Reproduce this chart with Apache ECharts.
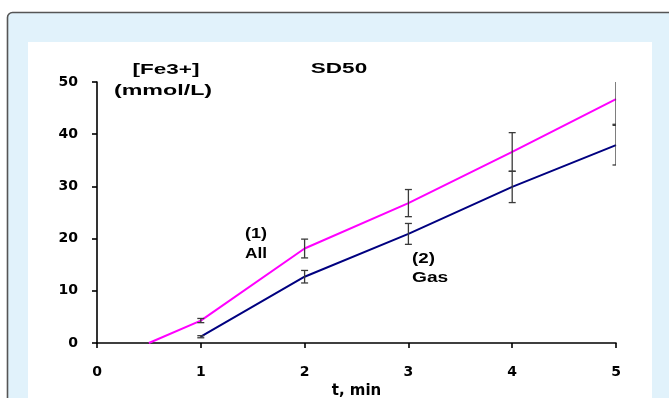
<!DOCTYPE html>
<html>
<head>
<meta charset="utf-8">
<script src="https://cdn.jsdelivr.net/npm/echarts@6/dist/echarts.min.js"></script>
<style>
  html, body { margin: 0; padding: 0; background: #fff; }
  #chart { width: 669px; height: 398px; }
</style>
</head>
<body>
<div id="chart"></div>
<script>
// values
const xTicks = [0, 1, 2, 3, 4, 5]
const yTicks = [0, 10, 20, 30, 40, 50]

const allX = [0.5, 1, 2, 3, 4, 5]
const allY = [0, 4.3, 18.1, 26.8, 36.6, 46.7]
const allErr = [null, 0.4, 1.8, 2.6, 3.7, 4.8]

const gasX = [1, 2, 3, 4, 5]
const gasY = [1.2, 12.7, 20.9, 29.9, 37.9]
const gasErr = [0.2, 1.2, 2.0, 3.0, 3.8]

const FONT = 'Liberation Sans, Arial, sans-serif'
const AXFONT = 'DejaVu Sans, sans-serif'

const pairs = (xs, ys) => xs.map((x, i) => [x, ys[i]])
const errRows = (xs, ys, es) => xs.map((x, i) => [x, ys[i], es[i]]).filter(r => r[2] != null)

function errorBar(params, api) {
  const x = api.value(0), y = api.value(1), e = api.value(2)
  const hi = api.coord([x, y + e])
  const lo = api.coord([x, y - e])
  const w = 3.5
  const style = { stroke: '#3a3a3a', lineWidth: 1.3 }
  return {
    type: 'group',
    children: [
      { type: 'line', shape: { x1: hi[0], y1: hi[1], x2: lo[0], y2: lo[1] }, style },
      { type: 'line', shape: { x1: hi[0] - w, y1: hi[1], x2: hi[0] + w, y2: hi[1] }, style },
      { type: 'line', shape: { x1: lo[0] - w, y1: lo[1], x2: lo[0] + w, y2: lo[1] }, style }
    ]
  }
}

// stretched bold text, like the scanned figure
const note = (text, x, y, sx, align) => ({
  type: 'text', x, y, scaleX: sx, z: 10,
  style: { text, fill: '#000', font: 'bold 15px ' + FONT, align: align || 'center', verticalAlign: 'middle' }
})

const mychart = echarts.init(document.getElementById('chart'))

const option = {
  animation: false,
  backgroundColor: '#ffffff',
  graphic: [
    // frame
    { type: 'rect', z: -10, silent: true,
      shape: { x: 7.5, y: 12.5, width: 700, height: 420, r: 5 },
      style: { fill: '#e1f2fb', stroke: '#555', lineWidth: 1.6 } },
    { type: 'rect', z: -9, silent: true,
      shape: { x: 28, y: 42, width: 624, height: 400 },
      style: { fill: '#ffffff' } },
    note('[Fe3+]', 166, 70, 1.5),
    note('(mmol/L)', 163, 91, 1.55),
    note('SD50', 339, 69, 1.5),
    note('(1)', 256, 234, 1.2),
    note('All', 256, 254, 1.15),
    note('(2)', 412, 259, 1.25, 'left'),
    note('Gas', 412, 278, 1.28, 'left')
  ],
  grid: { left: 97, right: 53, top: 82, bottom: 55, outerBoundsMode: 'none', containLabel: false },
  xAxis: {
    type: 'value', min: 0, max: 5, interval: 1,
    name: 't, min', nameLocation: 'middle', nameGap: 38,
    nameTextStyle: { color: '#000', fontWeight: 'bold', fontSize: 15, fontFamily: AXFONT },
    axisLine: { lineStyle: { color: '#000', width: 1.6 } },
    axisTick: { length: 5, lineStyle: { color: '#000', width: 1.6 } },
    axisLabel: { margin: 22, color: '#000', fontWeight: 'bold', fontSize: 14, fontFamily: AXFONT,
      formatter: v => xTicks.includes(v) ? String(v) : '' },
    splitLine: { show: false }
  },
  yAxis: {
    type: 'value', min: 0, max: 50, interval: 10,
    axisLine: { show: true, lineStyle: { color: '#000', width: 1.6 } },
    axisTick: { show: true, length: 5, lineStyle: { color: '#000', width: 1.6 } },
    axisLabel: { margin: 19, color: '#000', fontWeight: 'bold', fontSize: 14, fontFamily: AXFONT,
      formatter: v => yTicks.includes(v) ? String(v) : '' },
    splitLine: { show: false }
  },
  series: [
    {
      name: 'All', type: 'line', data: pairs(allX, allY),
      showSymbol: false, lineStyle: { color: '#ff00ff', width: 2 }, z: 3
    },
    {
      name: 'Gas', type: 'line', data: pairs(gasX, gasY),
      showSymbol: false, lineStyle: { color: '#000080', width: 2 }, z: 3
    },
    { name: 'All err', type: 'custom', clip: true, renderItem: errorBar, data: errRows(allX, allY, allErr), z: 5 },
    { name: 'Gas err', type: 'custom', clip: true, renderItem: errorBar, data: errRows(gasX, gasY, gasErr), z: 5 }
  ]
}

mychart.setOption(option, true)
</script>
</body>
</html>
